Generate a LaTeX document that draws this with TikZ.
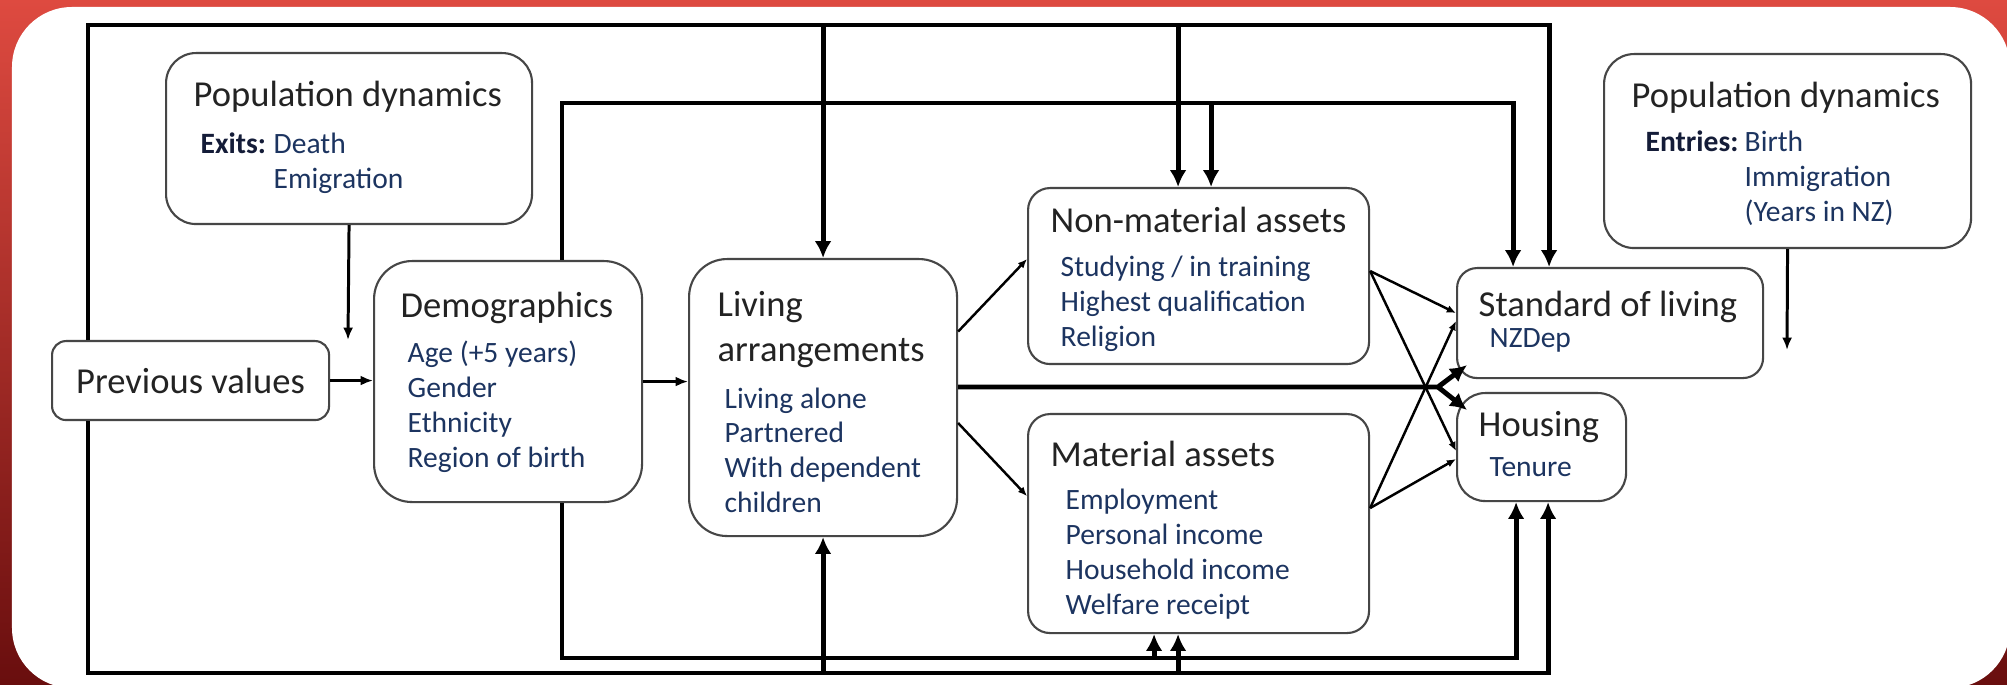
\documentclass[tikz,border=0pt]{standalone}
\usepackage{fontspec}
\setmainfont{Carlito}
\usepackage{tikz}
\usetikzlibrary{arrows.meta}

\definecolor{frametop}{RGB}{222,74,64}
\definecolor{framebot}{RGB}{105,14,14}
\definecolor{boxline}{RGB}{70,70,70}
\definecolor{titletext}{RGB}{35,35,35}
\definecolor{itemtext}{RGB}{28,52,96}
\definecolor{keytext}{RGB}{20,28,56}

\newcommand{\ttlfont}{\fontsize{10.4}{12.8}\selectfont}
\newcommand{\itmfont}{\fontsize{8.4}{9.95}\selectfont}
% stacked lines, baseline on the first one
\newcommand{\lines}[1]{\begin{tabular}[t]{@{}l@{}}#1\end{tabular}}

\begin{document}
\begin{tikzpicture}[
    box/.style={draw=boxline, line width=0.6pt, rounded corners=#1,
                anchor=north west, inner sep=0pt, fill=white},
    box/.default=2mm,
    ttl/.style={anchor=base west, inner sep=0pt,
                text=titletext, font=\ttlfont},
    itm/.style={anchor=base west, inner sep=0pt,
                text=itemtext, font=\itmfont},
    arr/.style={-{Latex[length=3.5pt,width=2.8pt]}, line width=0.85pt},
    diag/.style={-{Latex[length=2.6pt,width=2.2pt]}, line width=0.7pt},
    fb/.style={-{Latex[length=4.8pt,width=4.8pt]}, line width=1.4pt},
  ]
  \useasboundingbox (0,0) rectangle (20.07,6.84);
  \clip (0,0) rectangle (20.07,6.84);

  % Frame and panel
  \shade[top color=frametop, bottom color=framebot] (0,0) rectangle (20.07,6.84);
  \fill[white, rounded corners=0.6cm] (0.12,-0.04) rectangle (20.10,6.77);

  % Boxes
  \node[box=3mm, minimum width=3.66cm, minimum height=1.71cm] (popx) at (1.65,6.32) {};
  \node[box=1.4mm, minimum width=2.77cm, minimum height=0.79cm,
        text=titletext, font=\ttlfont] (prev) at (0.51,3.44) {Previous values};
  \node[box=3.8mm, minimum width=2.68cm, minimum height=2.41cm] (demo) at (3.73,4.24) {};
  \node[box=3.8mm, minimum width=2.68cm, minimum height=2.77cm] (live) at (6.88,4.26) {};
  \node[box=2.2mm, minimum width=3.41cm, minimum height=1.76cm] (nonmat) at (10.27,4.97) {};
  \node[box=2.2mm, minimum width=3.41cm, minimum height=2.19cm] (mat) at (10.27,2.71) {};
  \node[box=2mm, minimum width=3.06cm, minimum height=1.10cm] (sol) at (14.56,4.17) {};
  \node[box=2.8mm, minimum width=1.69cm, minimum height=1.08cm] (house) at (14.56,2.92) {};
  \node[box=3mm, minimum width=3.67cm, minimum height=1.94cm] (popn) at (16.03,6.31) {};

  % Box texts
  \node[ttl] (popxT) at (1.93,5.77) {Population dynamics};
  \node[itm] (popxL) at (2.00,5.30)
    {\lines{\makebox[0.73cm][l]{\textbf{\color{keytext}Exits:}}Death\\\hspace*{0.73cm}Emigration}};
  \node[ttl] (demoT) at (4.00,3.66) {Demographics};
  \node[itm] (demoL) at (4.07,3.21) {\lines{Age (+5 years)\\Gender\\Ethnicity\\Region of birth}};
  \node[ttl] (liveT) at (7.17,3.67) {\lines{Living\\arrangements}};
  \node[itm] (liveL) at (7.24,2.76) {\lines{Living alone\\Partnered\\With dependent\\children}};
  \node[ttl] (nonmatT) at (10.50,4.51) {Non-material assets};
  \node[itm] (nonmatL) at (10.60,4.07) {\lines{Studying / in training\\Highest qualification\\Religion}};
  \node[ttl] (matT) at (10.50,2.17) {Material assets};
  \node[itm] (matL) at (10.65,1.74) {\lines{Employment\\Personal income\\Household income\\Welfare receipt}};
  \node[ttl] (solT) at (14.78,3.67) {Standard of living};
  \node[itm] (solL) at (14.89,3.36) {NZDep};
  \node[ttl] (houseT) at (14.78,2.47) {Housing};
  \node[itm] (houseL) at (14.89,2.08) {Tenure};
  \node[ttl] (popnT) at (16.31,5.76) {Population dynamics};
  \node[itm] (popnL) at (16.45,5.32)
    {\lines{\makebox[0.99cm][l]{\textbf{\color{keytext}Entries:}}Birth\\\hspace*{0.99cm}Immigration\\\hspace*{0.99cm}(Years in NZ)}};

  % Track corners and free ends
  \coordinate (top1) at (0.88,6.59);
  \coordinate (top2) at (5.62,5.81);
  \coordinate (bot1) at (0.88,0.11);
  \coordinate (bot2) at (5.62,0.26);
  \coordinate (fork) at (14.38,2.97);
  \coordinate (exitpt) at (3.48,3.44);
  \coordinate (entrypt) at (17.87,3.34);

  % Entry points on box edges
  \coordinate (solA) at ([xshift=-9.7mm]sol.north);
  \coordinate (solB) at ([xshift=-6.1mm]sol.north);
  \coordinate (hsA) at ([xshift=-2.55mm]house.south);
  \coordinate (hsB) at ([xshift=0.65mm]house.south);
  \coordinate (nmA) at ([xshift=-2.05mm]nonmat.north);
  \coordinate (nmB) at ([xshift=1.25mm]nonmat.north);
  \coordinate (maA) at ([xshift=-4.45mm]mat.south);
  \coordinate (maB) at ([xshift=-2.05mm]mat.south);
  \coordinate (solC) at ([shift={(1.1mm,1.4mm)}]sol.south west);
  \coordinate (hsC) at ([shift={(1.1mm,-1.8mm)}]house.north west);

  % Main chain
  \draw[arr] (popx.south) -- (exitpt);
  \draw[arr] (popn.south) -- (entrypt);
  \draw[arr] (prev.east) -- (prev.east -| demo.west);
  \draw[arr] (demo.east) -- (demo.east -| live.west);

  % Living arrangements to assets and outcomes
  \draw[diag] ([yshift=6.6mm]live.east) -- ([yshift=1.7mm]nonmat.west);
  \draw[diag] ([yshift=-2.55mm]live.east) -- ([yshift=2.75mm]mat.west);
  \draw[fb] (live.east |- fork) -- (fork) -- (solC);
  \draw[fb] (fork) -- (hsC);

  % Assets to outcomes
  \draw[diag] ([yshift=0.5mm]nonmat.east) -- ([yshift=1.0mm]sol.west);
  \draw[diag] ([yshift=0.5mm]nonmat.east) -- ([yshift=-0.4mm]house.west);
  \draw[diag] ([yshift=1.55mm]mat.east) -- ([yshift=0.2mm]sol.west);
  \draw[diag] ([yshift=1.55mm]mat.east) -- ([yshift=-1.2mm]house.west);

  % Outer feedback from previous values
  \draw[fb] (prev.north -| top1) -- (top1) -| (solB);
  \draw[fb] (prev.south -| bot1) -- (bot1) -| (hsB);
  \draw[fb] (live.north |- top1) -- (live.north);
  \draw[fb] (nmA |- top1) -- (nmA);
  \draw[fb] (live.south |- bot1) -- (live.south);
  \draw[fb] (maB |- bot1) -- (maB);

  % Inner feedback from demographics
  \draw[fb] (demo.north -| top2) -- (top2) -| (solA);
  \draw[fb] (demo.south -| bot2) -- (bot2) -| (hsA);
  \draw[fb] (nmB |- top2) -- (nmB);
  \draw[fb] (maA |- bot2) -- (maA);

\end{tikzpicture}
\end{document}
